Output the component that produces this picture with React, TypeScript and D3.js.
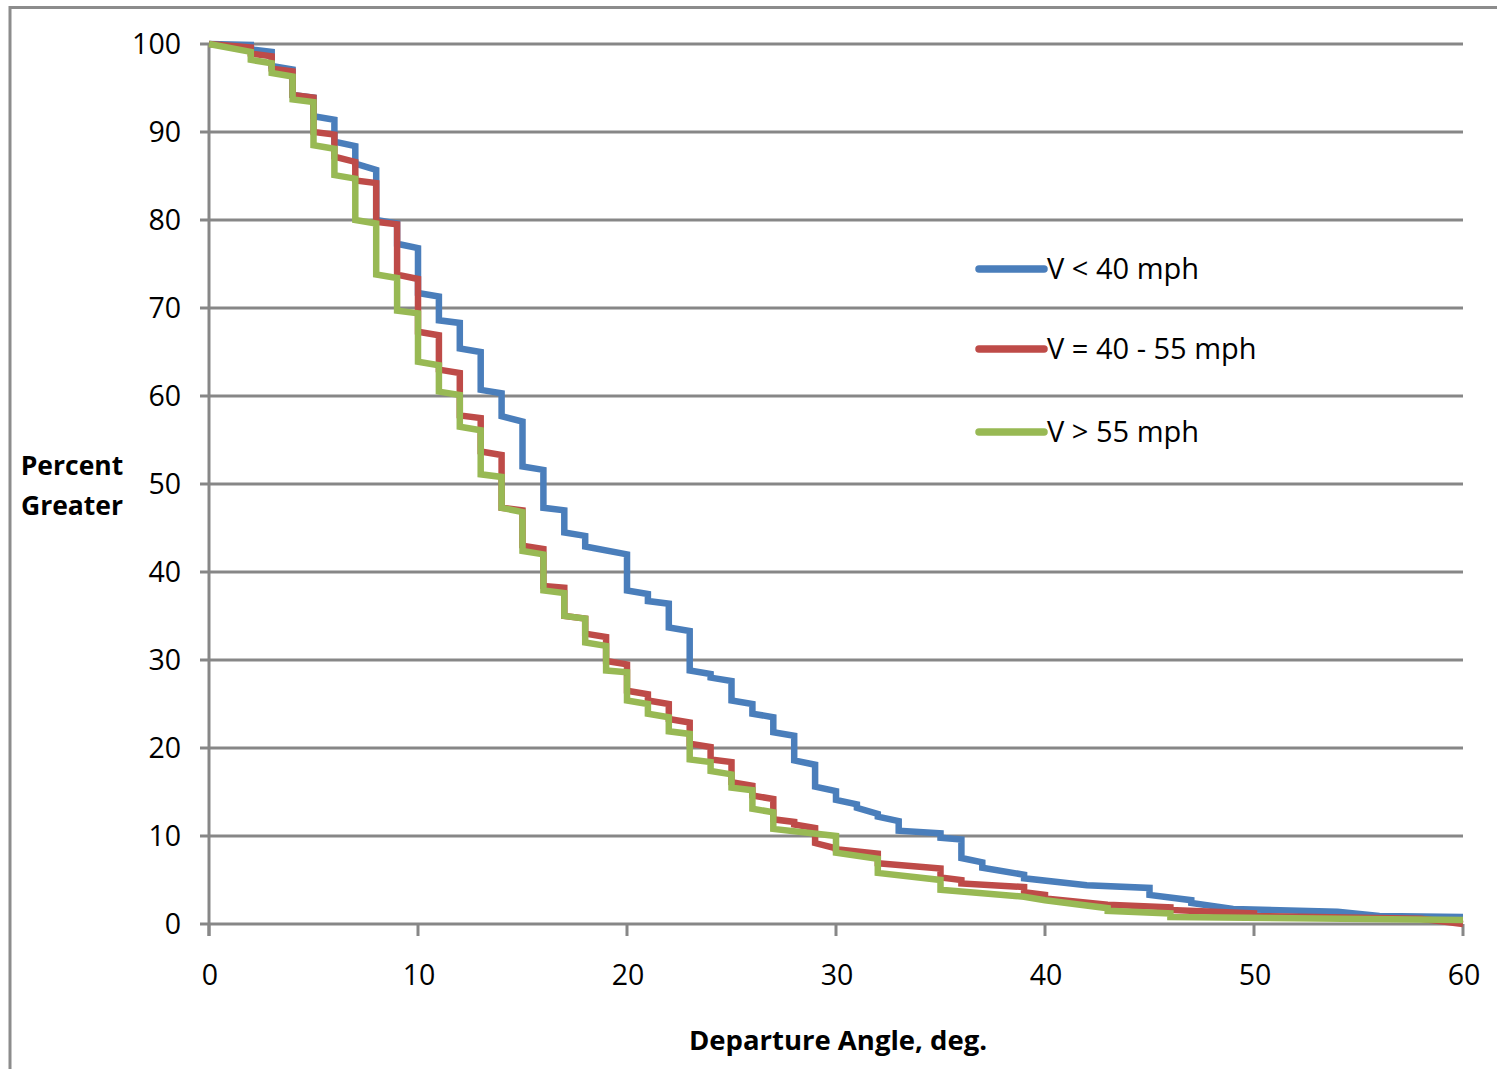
import React from "react";
import * as d3 from "d3";

// Series: [departure angle (deg), percent greater]
const seriesLow: [number, number][] = [
  [0, 100], [2, 99.9], [2, 99.4], [3, 99.1], [3, 97.5], [4, 97.1], [4, 94.2], [5, 93.9],
  [5, 91.8], [6, 91.4], [6, 88.9], [7, 88.4], [7, 86.4], [8, 85.7], [8, 80.0], [9, 79.6],
  [9, 77.3], [10, 76.8], [10, 71.7], [11, 71.3], [11, 68.6], [12, 68.3], [12, 65.4], [13, 65.0],
  [13, 60.7], [14, 60.3], [14, 57.7], [15, 57.1], [15, 52.0], [16, 51.6], [16, 47.3], [17, 47.0],
  [17, 44.5], [18, 44.1], [18, 42.9], [20, 42.0], [20, 37.9], [21, 37.5], [21, 36.7], [22, 36.4],
  [22, 33.7], [23, 33.3], [23, 28.8], [24, 28.4], [24, 28.0], [25, 27.6], [25, 25.4], [26, 25.0],
  [26, 23.9], [27, 23.5], [27, 21.8], [28, 21.4], [28, 18.6], [29, 18.1], [29, 15.6], [30, 15.1],
  [30, 14.1], [31, 13.6], [31, 13.2], [32, 12.5], [32, 12.2], [33, 11.7], [33, 10.6], [35, 10.3],
  [35, 9.8], [36, 9.6], [36, 7.5], [37, 7.0], [37, 6.4], [39, 5.6], [39, 5.2], [42, 4.4],
  [45, 4.1], [45, 3.3], [47, 2.7], [47, 2.4], [49, 1.7], [54, 1.4], [56, 0.9], [60, 0.8],
];

const seriesMid: [number, number][] = [
  [0, 100], [2, 99.6], [2, 98.9], [3, 98.6], [3, 97.2], [4, 96.9], [4, 94.2], [5, 93.9],
  [5, 90.0], [6, 89.7], [6, 87.2], [7, 86.6], [7, 84.5], [8, 84.2], [8, 79.8], [9, 79.5],
  [9, 73.8], [10, 73.3], [10, 67.3], [11, 66.9], [11, 63.0], [12, 62.6], [12, 57.8], [13, 57.5],
  [13, 53.7], [14, 53.3], [14, 47.3], [15, 47.0], [15, 43.0], [16, 42.6], [16, 38.4], [17, 38.2],
  [17, 35.0], [18, 34.7], [18, 33.0], [19, 32.6], [19, 29.9], [20, 29.5], [20, 26.5], [21, 26.1],
  [21, 25.4], [22, 25.0], [22, 23.3], [23, 22.9], [23, 20.5], [24, 20.1], [24, 18.7], [25, 18.4],
  [25, 16.1], [26, 15.7], [26, 14.6], [27, 14.2], [27, 11.9], [28, 11.6], [28, 11.3], [29, 10.9],
  [29, 9.2], [30, 8.6], [30, 8.5], [32, 8.0], [32, 6.9], [35, 6.3], [35, 5.3], [36, 5.0],
  [36, 4.6], [39, 4.2], [39, 3.6], [40, 3.3], [40, 2.9], [43, 2.2], [46, 1.9], [46, 1.6],
  [50, 1.2], [50, 0.9], [58, 0.6], [60, 0.0],
];

const seriesHigh: [number, number][] = [
  [0, 100], [2, 99.1], [2, 98.2], [3, 97.8], [3, 96.7], [4, 96.3], [4, 93.7], [5, 93.4],
  [5, 88.5], [6, 88.1], [6, 85.1], [7, 84.7], [7, 80.0], [8, 79.6], [8, 73.8], [9, 73.4],
  [9, 69.7], [10, 69.4], [10, 63.9], [11, 63.5], [11, 60.5], [12, 60.1], [12, 56.5], [13, 56.1],
  [13, 51.1], [14, 50.8], [14, 47.3], [15, 46.8], [15, 42.4], [16, 42.0], [16, 37.9], [17, 37.6],
  [17, 35.0], [18, 34.7], [18, 32.0], [19, 31.6], [19, 28.8], [20, 28.6], [20, 25.4], [21, 25.0],
  [21, 23.9], [22, 23.5], [22, 21.9], [23, 21.6], [23, 18.7], [24, 18.4], [24, 17.4], [25, 17.0],
  [25, 15.5], [26, 15.2], [26, 13.1], [27, 12.7], [27, 10.8], [30, 10.0], [30, 8.1], [32, 7.4],
  [32, 5.8], [35, 5.0], [35, 3.9], [39, 3.1], [40, 2.7], [43, 1.8], [43, 1.5], [46, 1.2],
  [46, 0.8], [60, 0.45],
];

const seriesNames = ["V < 40 mph", "V = 40 - 55 mph", "V > 55 mph"];
const seriesColors = ["#4A7EBB", "#BE4B48", "#98B954"];
const xTicks = [0, 10, 20, 30, 40, 50, 60];
const yTicks = [0, 10, 20, 30, 40, 50, 60, 70, 80, 90, 100];
const xTitle = "Departure Angle, deg.";
const yTitleLines = ["Percent", "Greater"];

const W = 1497;
const H = 1069;
const FONT = "'Open Sans', 'DejaVu Sans', sans-serif";
const GRID = "#878787";

export default function App() {
  const x = d3.scaleLinear().domain([0, 60]).range([209, 1463]);
  const y = d3.scaleLinear().domain([0, 100]).range([924, 44]);
  const line = d3
    .line<[number, number]>()
    .x((d) => x(d[0]))
    .y((d) => y(d[1]));
  const allSeries = [seriesLow, seriesMid, seriesHigh];
  const legendY = [269, 349, 432];

  return (
    <svg
      width={W}
      height={H}
      style={{ position: "absolute", left: 0, top: 0, background: "#fff" }}
    >
      <rect x={0} y={0} width={W} height={H} fill="#fff" />
      {/* outer frame (cropped at right / bottom) */}
      <line x1={10} y1={7.5} x2={W} y2={7.5} stroke="#8c8c8c" strokeWidth={3} />
      <line x1={10} y1={6} x2={10} y2={H} stroke="#8c8c8c" strokeWidth={3} />

      {/* gridlines */}
      {yTicks.map((t) => (
        <g key={"g" + t}>
          <line x1={200} x2={x(60)} y1={y(t)} y2={y(t)} stroke={GRID} strokeWidth={3} />
          <text
            x={181}
            y={y(t) + 9.5}
            textAnchor="end"
            fontFamily={FONT}
            fontSize={28.5}
            fill="#000"
          >
            {t}
          </text>
        </g>
      ))}
      {/* y axis */}
      <line x1={x(0)} x2={x(0)} y1={y(100)} y2={936} stroke={GRID} strokeWidth={3} />
      {xTicks.map((t) => (
        <g key={"x" + t}>
          <line x1={x(t)} x2={x(t)} y1={y(0)} y2={936} stroke={GRID} strokeWidth={3} />
          <text
            x={x(t) + 1}
            y={985}
            textAnchor="middle"
            fontFamily={FONT}
            fontSize={28.5}
            fill="#000"
          >
            {t}
          </text>
        </g>
      ))}

      {/* series */}
      {allSeries.map((s, i) => (
        <path
          key={"s" + i}
          d={line(s) || ""}
          fill="none"
          stroke={seriesColors[i]}
          strokeWidth={6.5}
          strokeLinejoin="miter"
          strokeLinecap="butt"
        />
      ))}

      {/* legend */}
      {seriesNames.map((n, i) => (
        <g key={"l" + i}>
          <line
            x1={979}
            x2={1044}
            y1={legendY[i]}
            y2={legendY[i]}
            stroke={seriesColors[i]}
            strokeWidth={7.5}
            strokeLinecap="round"
          />
          <text
            x={1047}
            y={legendY[i] + 10}
            fontFamily={FONT}
            fontSize={29}
            fill="#000"
          >
            {n}
          </text>
        </g>
      ))}

      {/* axis titles */}
      {yTitleLines.map((t, i) => (
        <text
          key={"yt" + i}
          x={72}
          y={475 + i * 40}
          textAnchor="middle"
          fontFamily={FONT}
          fontWeight="bold"
          fontSize={26.5}
          fill="#000"
        >
          {t}
        </text>
      ))}
      <text
        x={838}
        y={1050}
        textAnchor="middle"
        fontFamily={FONT}
        fontWeight="bold"
        fontSize={27.5}
        fill="#000"
      >
        {xTitle}
      </text>
    </svg>
  );
}
